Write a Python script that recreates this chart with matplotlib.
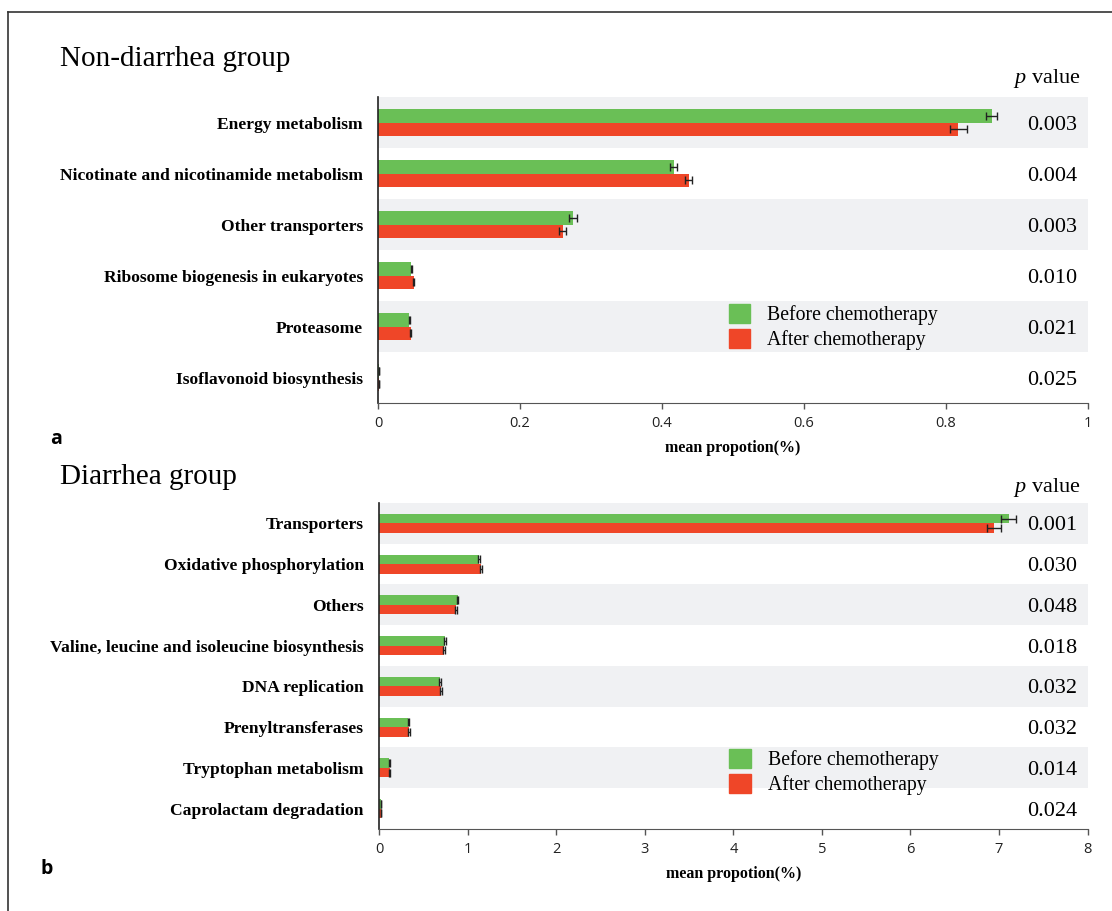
import matplotlib
import matplotlib.pyplot as plt
from matplotlib.patches import Patch
from matplotlib.lines import Line2D
import matplotlib.transforms as mtransforms

# pathways and mean proportions (%) for the non-diarrhea group
nd_labels = ['Energy metabolism', 'Nicotinate and nicotinamide metabolism',
             'Other transporters', 'Ribosome biogenesis in eukaryotes',
             'Proteasome', 'Isoflavonoid biosynthesis']
nd_before = [0.865, 0.417, 0.275, 0.047, 0.044, 0.001]
nd_before_err = [0.008, 0.005, 0.006, 0.001, 0.001, 0.0002]
nd_after = [0.818, 0.438, 0.260, 0.050, 0.046, 0.001]
nd_after_err = [0.012, 0.005, 0.005, 0.001, 0.001, 0.0002]
nd_pvals = ['0.003', '0.004', '0.003', '0.010', '0.021', '0.025']

# pathways and mean proportions (%) for the diarrhea group
d_labels = ['Transporters', 'Oxidative phosphorylation', 'Others',
            'Valine, leucine and isoleucine biosynthesis', 'DNA replication',
            'Prenyltransferases', 'Tryptophan metabolism', 'Caprolactam degradation']
d_before = [7.11, 1.13, 0.885, 0.745, 0.69, 0.33, 0.113, 0.02]
d_before_err = [0.085, 0.01, 0.01, 0.01, 0.01, 0.01, 0.005, 0.002]
d_after = [6.94, 1.15, 0.87, 0.73, 0.70, 0.34, 0.117, 0.02]
d_after_err = [0.08, 0.01, 0.01, 0.01, 0.01, 0.01, 0.005, 0.002]
d_pvals = ['0.001', '0.030', '0.048', '0.018', '0.032', '0.032', '0.014', '0.024']

GREEN = '#6abf56'
RED = '#ef4628'
BAND = '#f0f1f3'
SERIF = 'Liberation Serif'
SANS = 'Open Sans'

plt.rcParams['mathtext.fontset'] = 'custom'
plt.rcParams['mathtext.rm'] = SERIF
plt.rcParams['mathtext.it'] = SERIF + ':italic'

fig = plt.figure(figsize=(11.12, 9.11), dpi=100)


def panel(ax, labels, before, before_err, after, after_err, pvals,
          xmax, xticks, ticklabels, bar_h, leg_anchor):
    n = len(labels)
    ys = list(range(n))
    for i in ys:
        if i % 2 == 0:
            ax.axhspan(i - 0.5, i + 0.5, color=BAND, lw=0, zorder=0)
    off = bar_h / 2
    ax.barh([y - off for y in ys], before, height=bar_h, color=GREEN,
            xerr=before_err, error_kw=dict(ecolor='#222222', elinewidth=1,
                                           capsize=3, capthick=1), zorder=2)
    ax.barh([y + off for y in ys], after, height=bar_h, color=RED,
            xerr=after_err, error_kw=dict(ecolor='#222222', elinewidth=1,
                                          capsize=3, capthick=1), zorder=2)
    ax.set_ylim(n - 0.5, -0.5)
    ax.set_xlim(0, xmax)
    ax.set_yticks(ys)
    ax.set_yticklabels(labels, fontfamily=SERIF, fontweight='bold', fontsize=12.6)
    ax.tick_params(axis='y', length=0, pad=11)
    ax.set_xticks(xticks)
    ax.set_xticklabels(ticklabels, fontfamily=SANS, fontsize=10.5, color='#222222')
    ax.tick_params(axis='x', length=4, width=1, color='#555555', pad=5)
    for s in ['top', 'right']:
        ax.spines[s].set_visible(False)
    ax.spines['left'].set_color('#222222')
    ax.spines['bottom'].set_color('#555555')
    ax.spines['left'].set_linewidth(1.2)
    ax.set_xlabel('mean propotion(%)', fontfamily=SERIF, fontweight='bold',
                  fontsize=11.5, labelpad=7)
    tr = mtransforms.blended_transform_factory(ax.transAxes, ax.transData)
    for y, p in zip(ys, pvals):
        ax.text(0.986, y, p, transform=tr, ha='right', va='center_baseline',
                fontfamily=SERIF, fontsize=16)
    handles = [Patch(color=GREEN, label='Before chemotherapy'),
               Patch(color=RED, label='After chemotherapy')]
    ax.legend(handles=handles, loc='upper left', bbox_to_anchor=leg_anchor,
              frameon=False, prop=dict(family=SERIF, size=14.2),
              handlelength=1.1, handleheight=1.1, handletextpad=0.85,
              labelspacing=0.2, borderpad=0, borderaxespad=0)


ax1 = fig.add_axes([0.340, 0.5576, 0.638, 0.3359])
panel(ax1, nd_labels, nd_before, nd_before_err, nd_after, nd_after_err, nd_pvals,
      1.0, [0, 0.2, 0.4, 0.6, 0.8, 1.0], ['0', '0.2', '0.4', '0.6', '0.8', '1'],
      0.26, (0.494, 0.325))

ax2 = fig.add_axes([0.341, 0.090, 0.637, 0.3579])
panel(ax2, d_labels, d_before, d_before_err, d_after, d_after_err, d_pvals,
      8, list(range(9)), [str(i) for i in range(9)],
      0.235, (0.494, 0.245))

# group titles, p value headers and panel letters
fig.text(60 / 1112, 1 - 59 / 911, 'Non-diarrhea group', fontfamily=SERIF,
         fontsize=21, va='center', ha='left')
fig.text(60 / 1112, 1 - 477 / 911, 'Diarrhea group', fontfamily=SERIF,
         fontsize=21, va='center', ha='left')
fig.text(1080 / 1112, 1 - 79 / 911, r'$p$ value', fontfamily=SERIF,
         fontsize=16, va='center', ha='right')
fig.text(1080 / 1112, 1 - 488 / 911, r'$p$ value', fontfamily=SERIF,
         fontsize=16, va='center', ha='right')
fig.text(50 / 1112, 1 - 439 / 911, 'a', fontfamily=SANS, fontweight='bold',
         fontsize=14, va='center', ha='left')
fig.text(40 / 1112, 1 - 869 / 911, 'b', fontfamily=SANS, fontweight='bold',
         fontsize=14, va='center', ha='left')

# outer frame (top and left edges)
fx, fy = 8 / 1112, 1 - 12 / 911
fig.add_artist(Line2D([fx, 1], [fy, fy], color='#333333', lw=1.2))
fig.add_artist(Line2D([fx, fx], [0, fy], color='#333333', lw=1.2))

fig.savefig('out.png', dpi=100)
